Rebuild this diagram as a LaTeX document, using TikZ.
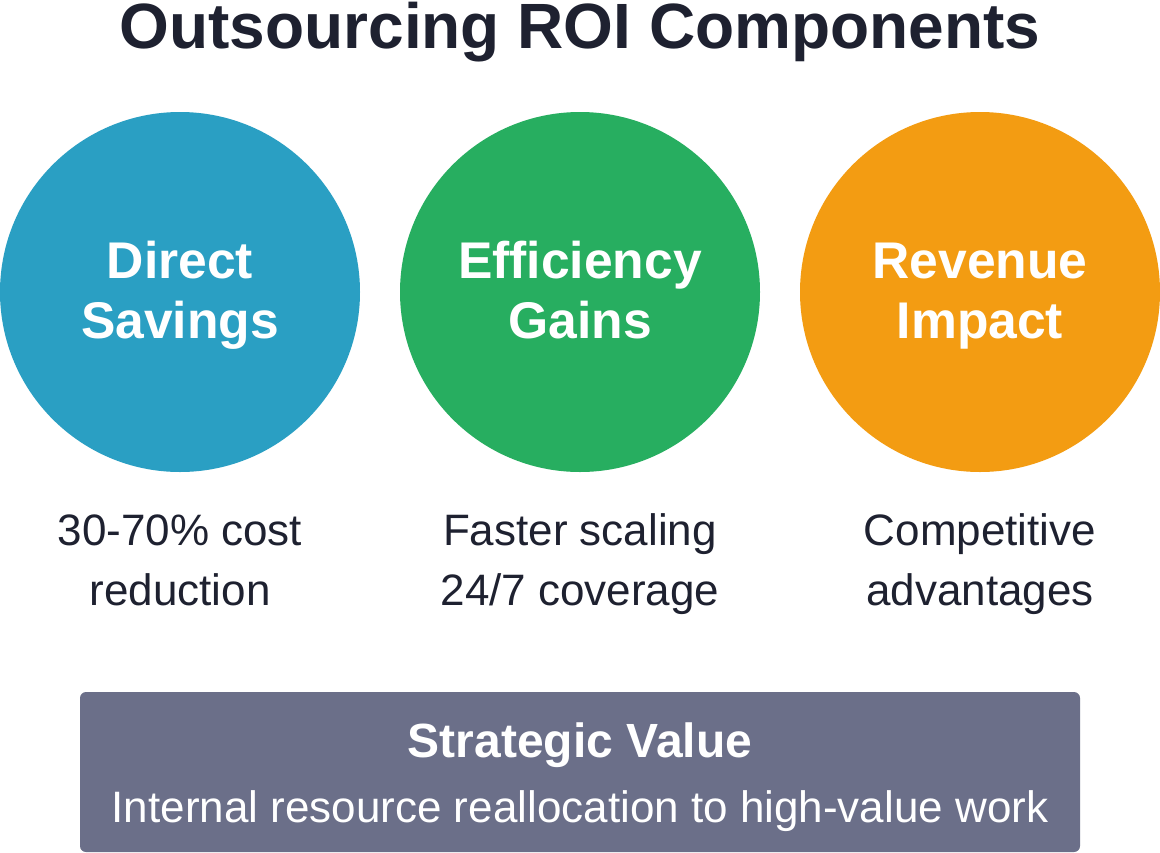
\documentclass[tikz,border=0pt]{standalone}
\usepackage{fontspec}
\setmainfont{Liberation Sans}
\definecolor{ink}{HTML}{1E2130}
\definecolor{cblue}{HTML}{2A9FC3}
\definecolor{cgreen}{HTML}{27AE60}
\definecolor{corange}{HTML}{F39C12}
\definecolor{cslate}{HTML}{6B6F89}
\begin{document}
\begin{tikzpicture}[x=1pt,y=-1pt,
  circ/.style={circle,minimum size=360pt,inner sep=0pt,draw=none},
  ctext/.style={text=white,font=\fontsize{51.6}{60}\selectfont\bfseries,align=center},
  desc/.style={text=ink,font=\fontsize{44}{60}\selectfont,align=center},
]
\useasboundingbox (0,0) rectangle (1160,852);
\node[text=ink,font=\fontsize{64}{70}\selectfont\bfseries,anchor=base] (title) at (580,48) {Outsourcing ROI Components};
\node[circ,fill=cblue] (c1) at (180,292) {};
\node[circ,fill=cgreen] (c2) at (580,292) {};
\node[circ,fill=corange] (c3) at (980,292) {};
\node[ctext,anchor=base] (t1) at (180,338) {Direct\\Savings};
\node[ctext,anchor=base] (t2) at (580,338) {Efficiency\\Gains};
\node[ctext,anchor=base] (t3) at (980,338) {Revenue\\Impact};
\node[desc,anchor=base] (d1) at (180,605) {30-70\% cost\\reduction};
\node[desc,anchor=base] (d2) at (580,605) {Faster scaling\\24/7 coverage};
\node[desc,anchor=base] (d3) at (980,605) {Competitive\\advantages};
\fill[cslate,rounded corners=6pt] (80,692) rectangle (1080,852);
\node[text=white,font=\fontsize{48}{50}\selectfont\bfseries,anchor=base] (sv) at (580,757) {Strategic Value};
\node[text=white,font=\fontsize{44}{50}\selectfont,anchor=base] (sd) at (580,822) {Internal resource reallocation to high-value work};
\end{tikzpicture}
\end{document}
